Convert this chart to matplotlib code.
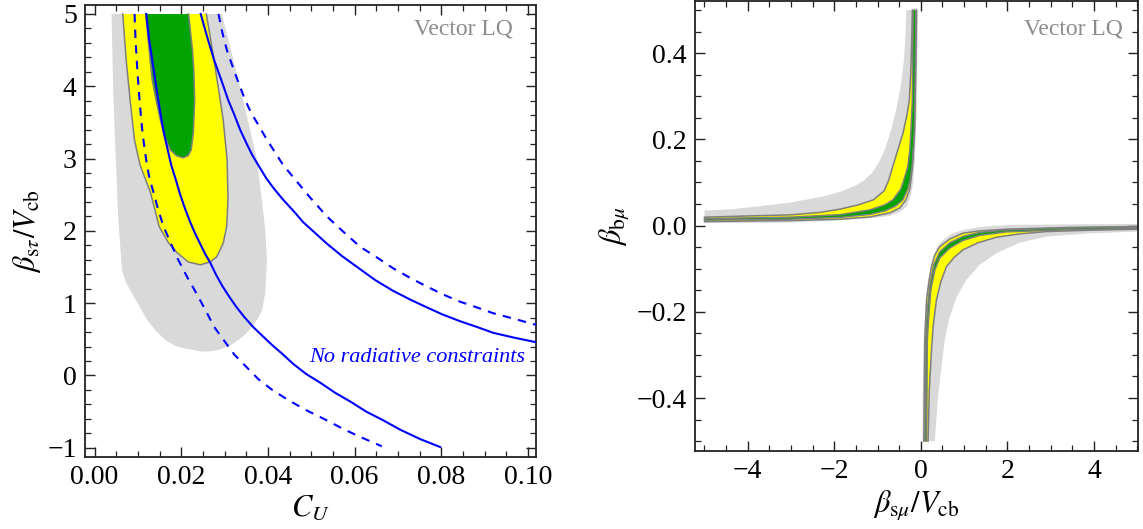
import matplotlib
matplotlib.use("Agg")
import matplotlib.pyplot as plt
from matplotlib.ticker import MultipleLocator, FuncFormatter

plt.rcParams['font.family'] = ['Liberation Serif', 'DejaVu Serif']
plt.rcParams['mathtext.fontset'] = 'stix'

# ---- left panel: C_U vs beta_s tau / V_cb ----
# allowed regions, boundary points (C_U, beta) ordered left side top->bottom->right side top
gray_cu = [0.0039, 0.0043, 0.0049, 0.0055, 0.0063, 0.0073, 0.0086, 0.0103, 0.0121, 0.0141, 0.0163,
           0.0186, 0.0209, 0.0248, 0.0270, 0.0290, 0.0312, 0.0332, 0.0350, 0.0363, 0.0377, 0.0387,
           0.0394, 0.0398, 0.0394, 0.0386, 0.0375, 0.0343, 0.0318, 0.0294]
gray_b = [5.0, 3.95, 2.98, 2.15, 1.46, 1.28, 1.14, 0.96, 0.77, 0.62, 0.49,
          0.41, 0.37, 0.33, 0.335, 0.36, 0.41, 0.49, 0.58, 0.67, 0.79, 0.91,
          1.14, 1.60, 2.01, 2.43, 2.98, 3.81, 4.43, 5.0]

yellow_cu = [0.0065, 0.0073, 0.0082, 0.0092, 0.0105, 0.0129, 0.0149, 0.0170, 0.0190, 0.0216, 0.0244,
             0.0267, 0.0282, 0.0297, 0.0305, 0.0308, 0.0306, 0.0297, 0.0290, 0.0274, 0.0258]
yellow_b = [5.0, 4.36, 3.81, 3.26, 2.91, 2.53, 2.06, 1.84, 1.70, 1.57, 1.53,
            1.57, 1.64, 1.83, 2.06, 2.43, 2.98, 3.53, 3.81, 4.43, 5.0]

green_cu = [0.0118, 0.0126, 0.0133, 0.0142, 0.0152, 0.0159, 0.0168, 0.0175, 0.0189, 0.0204,
            0.0216, 0.0223, 0.0228, 0.0231, 0.0229, 0.0226, 0.0217]
green_b = [5.0, 4.50, 4.09, 3.81, 3.53, 3.36, 3.22, 3.12, 3.04, 3.01,
           3.04, 3.12, 3.36, 3.81, 4.23, 4.50, 5.0]

# no-radiative-constraint curves (solid and dashed), lower and upper branches
solid_lo_cu = [0.01193, 0.01262, 0.01331, 0.01400, 0.01469, 0.01538, 0.01608, 0.01689, 0.01769,
               0.01873, 0.01977, 0.02092, 0.02208, 0.02323, 0.02438, 0.02553, 0.02669, 0.02807,
               0.02946, 0.03107, 0.03269, 0.03453, 0.03661, 0.03869, 0.04099, 0.04330, 0.04584,
               0.04884, 0.05207, 0.05553, 0.05899, 0.06268, 0.06660, 0.07052, 0.07513, 0.07975]
solid_lo_b = [5.0, 4.64, 4.36, 4.09, 3.81, 3.56, 3.33, 3.12, 2.91,
              2.71, 2.50, 2.30, 2.12, 1.96, 1.82, 1.68, 1.56, 1.39,
              1.24, 1.09, 0.95, 0.81, 0.67, 0.55, 0.42, 0.30, 0.16,
              0.02, -0.10, -0.24, -0.36, -0.50, -0.62, -0.75, -0.88, -0.99]
solid_hi_cu = [0.02450, 0.02600, 0.02761, 0.02923, 0.03084, 0.03223, 0.03359, 0.03499, 0.03638,
               0.03798, 0.03961, 0.04146, 0.04353, 0.04584, 0.04815, 0.05091, 0.05368, 0.05714,
               0.06083, 0.06475, 0.06891, 0.07283, 0.07675, 0.08044, 0.08436, 0.08828, 0.09197,
               0.09704, 0.10189]
solid_hi_b = [5.0, 4.68, 4.36, 4.09, 3.81, 3.61, 3.40, 3.22, 3.05,
              2.89, 2.73, 2.58, 2.43, 2.28, 2.12, 1.97, 1.82, 1.65,
              1.49, 1.32, 1.17, 1.05, 0.94, 0.84, 0.75, 0.67, 0.59,
              0.52, 0.46]
dash_lo_cu = [0.00923, 0.00946, 0.00973, 0.01003, 0.01038, 0.01073, 0.01112, 0.01158, 0.01209,
              0.01273, 0.01361, 0.01469, 0.01592, 0.01758, 0.01931, 0.02138, 0.02346, 0.02554,
              0.02762, 0.02992, 0.03223, 0.03500, 0.03777, 0.04100, 0.04468, 0.04884, 0.05322,
              0.05737, 0.06129, 0.06630]
dash_lo_b = [5.0, 4.64, 4.36, 4.09, 3.81, 3.56, 3.33, 3.12, 2.91,
             2.71, 2.53, 2.29, 2.06, 1.83, 1.60, 1.36, 1.14, 0.91,
             0.67, 0.48, 0.29, 0.12, -0.05, -0.20, -0.34, -0.48, -0.61,
             -0.74, -0.85, -0.98]
dash_hi_cu = [0.02860, 0.02946, 0.03054, 0.03177, 0.03315, 0.03476, 0.03615, 0.03776, 0.03949,
              0.04129, 0.04353, 0.04630, 0.04976, 0.05361, 0.05737, 0.06129, 0.06521, 0.06897,
              0.07283, 0.07668, 0.08044, 0.08436, 0.08828, 0.09204, 0.09705, 0.10189]
dash_hi_b = [5.0, 4.75, 4.50, 4.29, 4.06, 3.81, 3.63, 3.47, 3.29,
             3.12, 2.91, 2.71, 2.46, 2.20, 1.99, 1.78, 1.63, 1.48,
             1.35, 1.23, 1.12, 1.02, 0.94, 0.86, 0.78, 0.70]

# ---- right panel: beta_s mu / V_cb vs beta_b mu ----
# upper-left branch: the two edges of each band
ul_gray_out_x = [-5.0, -4.41, -3.79, -3.02, -2.26, -1.87, -1.52, -1.30, -1.12, -0.96, -0.81,
                 -0.68, -0.56, -0.46, -0.39, -0.35, -0.335]
ul_gray_out_y = [0.0348, 0.0376, 0.0441, 0.0534, 0.0673, 0.0782, 0.0921, 0.1060, 0.1230, 0.1480,
                 0.1820, 0.2250, 0.2730, 0.3265, 0.3845, 0.4541, 0.5]
ul_gray_in_x = [-5.0, -3.95, -3.02, -2.10, -1.48, -1.06, -0.72, -0.48, -0.33, -0.24, -0.178,
                -0.138, -0.115, -0.092, -0.081, -0.062]
ul_gray_in_y = [0.0056, 0.0063, 0.0070, 0.0109, 0.0148, 0.0179, 0.0225, 0.0318, 0.0441, 0.0666,
                0.0984, 0.1524, 0.2151, 0.2916, 0.3845, 0.5]
ul_yel_out_x = [-5.0, -3.95, -3.02, -2.33, -1.87, -1.45, -1.10, -0.85, -0.74, -0.65, -0.53,
                -0.41, -0.32, -0.265, -0.23, -0.21, -0.196]
ul_yel_out_y = [0.0195, 0.0225, 0.0248, 0.0306, 0.0381, 0.048, 0.0596, 0.0805, 0.106, 0.137, 0.176,
                0.215, 0.257, 0.292, 0.361, 0.431, 0.5]
ul_yel_in_x = [-5.0, -3.02, -1.87, -1.18, -0.715, -0.485, -0.346, -0.254, -0.192, -0.145,
               -0.115, -0.099]
ul_yel_in_y = [0.0093, 0.0116, 0.0148, 0.020, 0.0295, 0.041, 0.0596, 0.085, 0.137, 0.214,
               0.369, 0.5]
ul_grn_out_x = [-5.0, -3.02, -1.87, -1.18, -0.83, -0.646, -0.46, -0.37, -0.30, -0.254, -0.231,
                -0.196, -0.178]
ul_grn_out_y = [0.0162, 0.0195, 0.0253, 0.0364, 0.048, 0.0596, 0.085, 0.113, 0.137, 0.176, 0.215,
                0.292, 0.5]
ul_grn_in_x = [-5.0, -3.02, -1.87, -1.18, -0.83, -0.577, -0.415, -0.30, -0.231, -0.201, -0.173,
               -0.15, -0.132, -0.115]
ul_grn_in_y = [0.0125, 0.0148, 0.019, 0.026, 0.034, 0.0457, 0.0596, 0.085, 0.113, 0.137, 0.176,
               0.215, 0.292, 0.5]

# lower-right branch
lr_gray_in_x = [5.0, 3.44, 2.13, 1.48, 0.976, 0.715, 0.515, 0.38, 0.284, 0.219, 0.168, 0.127,
                0.069, 0.046, 0.039]
lr_gray_in_y = [0.0039, 0.0028, 0.0016, -0.0019, -0.010, -0.019, -0.033, -0.049, -0.072, -0.098,
                -0.134, -0.172, -0.249, -0.358, -0.5]
lr_gray_out_x = [5.0, 3.90, 2.90, 2.28, 1.75, 1.36, 1.055, 0.83, 0.669, 0.554, 0.478, 0.392, 0.323]
lr_gray_out_y = [-0.0139, -0.018, -0.0255, -0.040, -0.064, -0.091, -0.126, -0.165, -0.211, -0.265,
                 -0.327, -0.404, -0.5]
lr_yel_in_x = [5.0, 3.44, 1.98, 1.36, 0.976, 0.67, 0.438, 0.323, 0.247, 0.185, 0.132, 0.092, 0.069]
lr_yel_in_y = [-0.0023, -0.0042, -0.0084, -0.0123, -0.0176, -0.031, -0.049, -0.068, -0.095,
               -0.131, -0.172, -0.265, -0.5]
lr_yel_out_x = [5.0, 3.9, 2.90, 2.28, 1.75, 1.32, 0.976, 0.76, 0.593, 0.46, 0.362, 0.288, 0.247,
                0.196, 0.168]
lr_yel_out_y = [-0.0084, -0.0107, -0.0139, -0.0193, -0.027, -0.040, -0.056, -0.075, -0.095, -0.131,
                -0.172, -0.230, -0.288, -0.381, -0.5]
lr_grn_in_x = [5.0, 3.44, 1.98, 1.36, 0.976, 0.67, 0.438, 0.30, 0.208, 0.15, 0.115, 0.092]
lr_grn_in_y = [-0.0037, -0.0053, -0.0100, -0.0158, -0.0251, -0.040, -0.061, -0.091, -0.138, -0.196,
               -0.265, -0.5]
lr_grn_out_x = [5.0, 3.44, 1.98, 1.36, 0.976, 0.67, 0.438, 0.323, 0.231, 0.185, 0.150, 0.134]
lr_grn_out_y = [-0.0070, -0.0095, -0.0146, -0.0227, -0.0343, -0.052, -0.075, -0.103, -0.149, -0.207,
                -0.265, -0.5]

GRAY = '#d9d9d9'
YELLOW = '#ffff00'
GREEN = '#00a300'
EDGE = '#7f7f7f'
BLUE = '#0000ff'


def band(ax, xa, ya, xb, yb, color, outline=True):
    # closed region between two edges, outlines drawn only along the edges
    ax.fill(list(xa) + list(xb)[::-1], list(ya) + list(yb)[::-1], color=color, lw=0, zorder=1)
    if outline:
        ax.plot(xa, ya, color=EDGE, lw=1.1, zorder=2)
        ax.plot(xb, yb, color=EDGE, lw=1.1, zorder=2)


def style(ax):
    ax.tick_params(which='both', direction='in', top=True, right=True, labelsize=20,
                   color='#222222', pad=6)
    ax.tick_params(which='major', length=7, width=1.0)
    ax.tick_params(which='minor', length=4, width=0.9)
    for s in ax.spines.values():
        s.set_linewidth(1.3)
        s.set_color('#222222')


fig = plt.figure(figsize=(11.43, 5.29), dpi=100)

ax1 = fig.add_axes([0.0744, 0.1367, 0.3946, 0.8538])
ax1.fill(gray_cu, gray_b, color=GRAY, lw=0, zorder=1)
ax1.fill(yellow_cu, yellow_b, color=YELLOW, lw=0, zorder=1)
ax1.plot(yellow_cu, yellow_b, color=EDGE, lw=1.1, zorder=2)
ax1.fill(green_cu, green_b, color=GREEN, lw=0, zorder=2)
ax1.plot(green_cu, green_b, color=EDGE, lw=1.1, zorder=3)
ax1.plot(solid_lo_cu, solid_lo_b, color=BLUE, lw=1.5, zorder=4)
ax1.plot(solid_hi_cu, solid_hi_b, color=BLUE, lw=1.5, zorder=4)
ax1.plot(dash_lo_cu, dash_lo_b, color=BLUE, lw=1.5, ls=(0, (4, 3.5)), zorder=4)
ax1.plot(dash_hi_cu, dash_hi_b, color=BLUE, lw=1.5, ls=(0, (4, 3.5)), zorder=4)
ax1.text(0.0994, 0.245, 'No radiative constraints', color=BLUE, style='italic',
         fontsize=16, ha='right', va='center')
ax1.text(0.949, 0.947, 'Vector LQ', color='#8c8c8c', fontsize=17, ha='right', va='center',
         transform=ax1.transAxes)
ax1.set_xlim(-0.0022, 0.1019)
ax1.set_ylim(-1.124, 5.124)
ax1.xaxis.set_major_locator(MultipleLocator(0.02))
ax1.xaxis.set_minor_locator(MultipleLocator(0.005))
ax1.yaxis.set_major_locator(MultipleLocator(1))
ax1.yaxis.set_minor_locator(MultipleLocator(0.2))
ax1.xaxis.set_major_formatter(FuncFormatter(lambda v, p: f'{v:.2f}'))
ax1.yaxis.set_major_formatter(FuncFormatter(lambda v, p: f'{v:.0f}'.replace('-', '\u2212')))
ax1.set_xlabel(r'$C_U$', fontsize=22, labelpad=3)
ax1.set_ylabel(r'$\beta_{\mathrm{s}\tau}/V_{\mathrm{cb}}$', fontsize=22, labelpad=3)
style(ax1)

ax2 = fig.add_axes([0.608, 0.1474, 0.3873, 0.8507])
band(ax2, ul_gray_out_x, ul_gray_out_y, ul_gray_in_x, ul_gray_in_y, GRAY, outline=False)
band(ax2, lr_gray_in_x, lr_gray_in_y, lr_gray_out_x, lr_gray_out_y, GRAY, outline=False)
band(ax2, ul_yel_out_x, ul_yel_out_y, ul_yel_in_x, ul_yel_in_y, YELLOW)
band(ax2, lr_yel_in_x, lr_yel_in_y, lr_yel_out_x, lr_yel_out_y, YELLOW)
band(ax2, ul_grn_out_x, ul_grn_out_y, ul_grn_in_x, ul_grn_in_y, GREEN)
band(ax2, lr_grn_in_x, lr_grn_in_y, lr_grn_out_x, lr_grn_out_y, GREEN)
ax2.text(0.967, 0.938, 'Vector LQ', color='#8c8c8c', fontsize=17, ha='right', va='center',
         transform=ax2.transAxes)
ax2.set_xlim(-5.22, 5.01)
ax2.set_ylim(-0.523, 0.521)
ax2.xaxis.set_major_locator(MultipleLocator(2))
ax2.xaxis.set_minor_locator(MultipleLocator(0.5))
ax2.yaxis.set_major_locator(MultipleLocator(0.2))
ax2.yaxis.set_minor_locator(MultipleLocator(0.05))
ax2.xaxis.set_major_formatter(FuncFormatter(lambda v, p: f'{v:.0f}'.replace('-', '\u2212')))
ax2.yaxis.set_major_formatter(FuncFormatter(
    lambda v, p: (f'{v:.1f}' if abs(v) > 1e-9 else '0.0').replace('-', '\u2212')))
ax2.set_xlabel(r'$\beta_{\mathrm{s}\mu}/V_{\mathrm{cb}}$', fontsize=22, labelpad=3)
ax2.set_ylabel(r'$\beta_{\mathrm{b}\mu}$', fontsize=22, labelpad=3)
style(ax2)

fig.savefig('out.png', dpi=100)
